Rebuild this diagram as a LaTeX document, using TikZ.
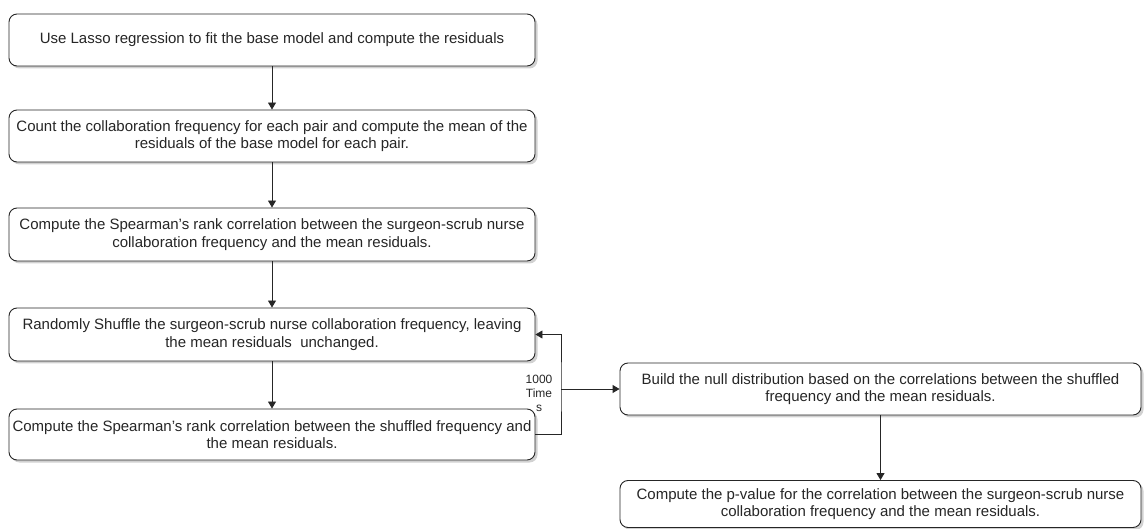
\documentclass[tikz,border=0pt]{standalone}
\usepackage{fontspec}
\setmainfont{Liberation Sans}
\usetikzlibrary{arrows.meta,shadows}
\begin{document}
\begin{tikzpicture}[x=1pt,y=-1pt,
  stepbox/.style={draw=black!85, line width=0.9pt, rounded corners=8pt, fill=white,
    align=center, inner sep=0pt, font=\fontsize{15}{17.5}\selectfont, text=black!85,
    drop shadow={shadow xshift=2.5pt, shadow yshift=-2.5pt, opacity=0.3, fill=black!60}},
  conn/.style={draw=black!85, line width=0.9pt, -{Triangle[width=8pt,length=7pt]}},
  lbl/.style={align=center, inner sep=0pt, font=\fontsize{12}{14}\selectfont, text=black!85}]
\useasboundingbox (0,0) rectangle (1144,529);
\node[lbl] (times) at (539,393) {1000\\Time\\s};
\node[stepbox, minimum width=526pt, minimum height=52pt] (b1) at (272,40)
  {Use Lasso regression to fit the base model and compute the residuals};
\node[stepbox, minimum width=526pt, minimum height=52pt] (b2) at (272,136)
  {Count the collaboration frequency for each pair and compute the mean of the\\residuals of the base model for each pair.};
\node[stepbox, minimum width=526pt, minimum height=53pt] (b3) at (272,234.5)
  {Compute the Spearman's rank correlation between the surgeon-scrub nurse\\collaboration frequency and the mean residuals.};
\node[stepbox, minimum width=526pt, minimum height=53pt] (b4) at (272,334.5)
  {Randomly Shuffle the surgeon-scrub nurse collaboration frequency, leaving\\the mean residuals\ \ unchanged.};
\node[stepbox, minimum width=526pt, minimum height=51pt] (b5) at (272,434.5)
  {Compute the Spearman's rank correlation between the shuffled frequency and\\the mean residuals.};
\node[stepbox, minimum width=521pt, minimum height=52pt] (b6) at (880.5,389)
  {Build the null distribution based on the correlations between the shuffled\\frequency and the mean residuals.};
\node[stepbox, minimum width=521pt, minimum height=47pt] (b7) at (880.5,504)
  {Compute the p-value for the correlation between the surgeon-scrub nurse\\collaboration frequency and the mean residuals.};
\coordinate (lp) at (561,389);
\draw[conn] (b1) -- (b2);
\draw[conn] (b2) -- (b3);
\draw[conn] (b3) -- (b4);
\draw[conn] (b4) -- (b5);
\draw[conn] (b5.east) -| (lp) |- (b4.east);
\draw[conn] (lp) -- (b6.west);
\draw[conn] (b6) -- (b7);
\end{tikzpicture}
\end{document}
